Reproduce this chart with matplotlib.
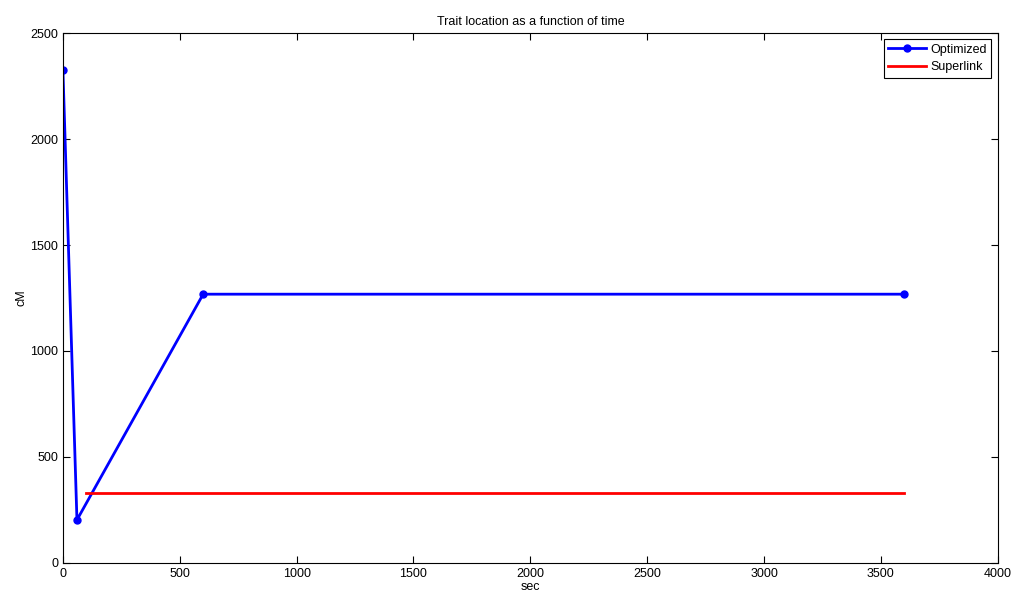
import numpy as np
import matplotlib.pyplot as plt

# trait location estimates over run time
opt_sec = [0, 60, 600, 3600]
opt_cm = [2325, 203, 1268, 1268]

sl_sec = [100, 3600]
sl_cm = [328, 328]

plt.rcParams['font.family'] = ['Liberation Sans', 'DejaVu Sans']
plt.rcParams['font.size'] = 9

fig = plt.figure(figsize=(10.15, 5.96), dpi=100)
ax = fig.add_axes([0.062, 0.0554, 0.921, 0.8892])

ax.plot(opt_sec, opt_cm, color='#0000ff', lw=2, marker='o', ms=5, label='Optimized')
ax.plot(sl_sec, sl_cm, color='#ff0000', lw=2, label='Superlink')

ax.set_xlim(0, 4000)
ax.set_ylim(0, 2500)
ax.set_xticks(np.arange(0, 4001, 500))
ax.set_yticks(np.arange(0, 2501, 500))
ax.tick_params(direction='in', top=True, right=True, length=5, labelsize=9)
for s in ax.spines.values():
    s.set_linewidth(0.8)

ax.set_title('Trait location as a function of time', fontsize=9, pad=6)
ax.set_xlabel('sec', fontsize=9, labelpad=1)
ax.set_ylabel('cM', fontsize=9, labelpad=2)

leg = ax.legend(loc='upper right', fancybox=False, edgecolor='black',
                framealpha=1, fontsize=9, borderaxespad=0.5,
                handlelength=3, labelspacing=0.45, borderpad=0.35,
                handletextpad=0.4)
leg.get_frame().set_linewidth(0.8)

plt.savefig('out.png')
plt.close()
